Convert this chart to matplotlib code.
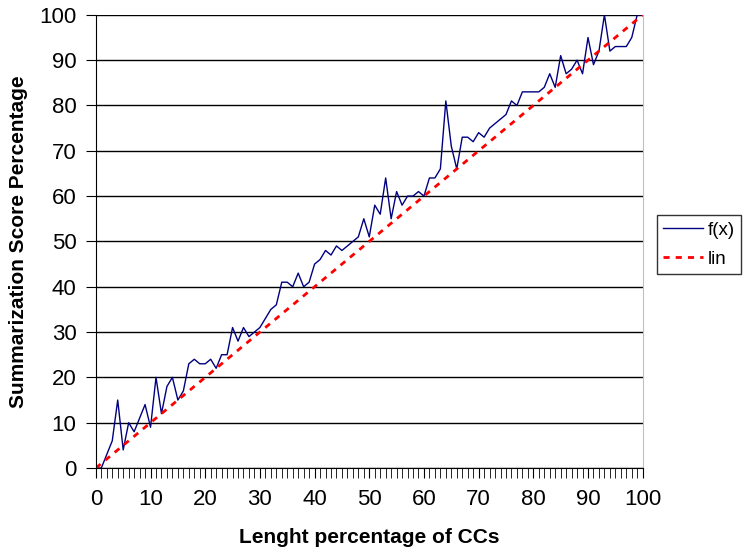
import matplotlib.pyplot as plt
import numpy as np

plt.rcParams['font.family'] = ['Liberation Sans', 'DejaVu Sans']

# x categories 0..100 (length percentage of CCs)
x_vals = list(range(0, 101))
# summarization score percentage
f_vals = [0, 0, 3, 6, 15, 4, 10, 8, 11, 14,
          9, 20, 12, 18, 20, 15, 17, 23, 24, 23,
          23, 24, 22, 25, 25, 31, 28, 31, 29, 30,
          31, 33, 35, 36, 41, 41, 40, 43, 40, 41,
          45, 46, 48, 47, 49, 48, 49, 50, 51, 55,
          51, 58, 56, 64, 55, 61, 58, 60, 60, 61,
          60, 64, 64, 66, 81, 71, 66, 73, 73, 72,
          74, 73, 75, 76, 77, 78, 81, 80, 83, 83,
          83, 83, 84, 87, 84, 91, 87, 88, 90, 87,
          95, 89, 92, 100, 92, 93, 93, 93, 95, 100,
          100]
lin_vals = x_vals

fig = plt.figure(figsize=(7.43, 5.49), dpi=100)
ax = fig.add_axes([0.129, 0.1475, 0.736, 0.8255])

ax.plot(x_vals, f_vals, color='#000080', linewidth=1.0, label='f(x)')
ax.plot(x_vals, lin_vals, color='red', linewidth=2.0, dashes=(2.2, 2.2), label='lin')

ax.set_xlim(0, 100)
ax.set_ylim(0, 100)
ax.set_yticks(range(0, 101, 10))
ax.set_xticks(range(0, 101, 10))
ax.set_xticks(range(0, 101), minor=True)
ax.yaxis.grid(True, color='black', linewidth=1.0)
ax.set_axisbelow(True)

ax.tick_params(axis='x', which='major', direction='out', length=7, pad=8, labelsize=16, color='black')
ax.tick_params(axis='x', which='minor', direction='out', length=7, color='black')
ax.tick_params(axis='y', direction='out', length=7, pad=7, labelsize=16)

ax.spines['top'].set_visible(False)
ax.spines['right'].set_color('#c0c0c0')
ax.spines['left'].set_color('black')
ax.spines['bottom'].set_color('black')

ax.set_xlabel('Lenght percentage of CCs', fontsize=15, fontweight='bold', labelpad=13)
ax.set_ylabel('Summarization Score Percentage', fontsize=15, fontweight='bold', labelpad=8)

leg = ax.legend(loc='center left', bbox_to_anchor=(1.026, 0.493), borderaxespad=0,
                fontsize=13.5, frameon=True, fancybox=False, edgecolor='black',
                handlelength=2.1, borderpad=0.35, labelspacing=0.65, handletextpad=0.25)
leg.get_frame().set_linewidth(1.0)

fig.savefig('out.png', dpi=100)
